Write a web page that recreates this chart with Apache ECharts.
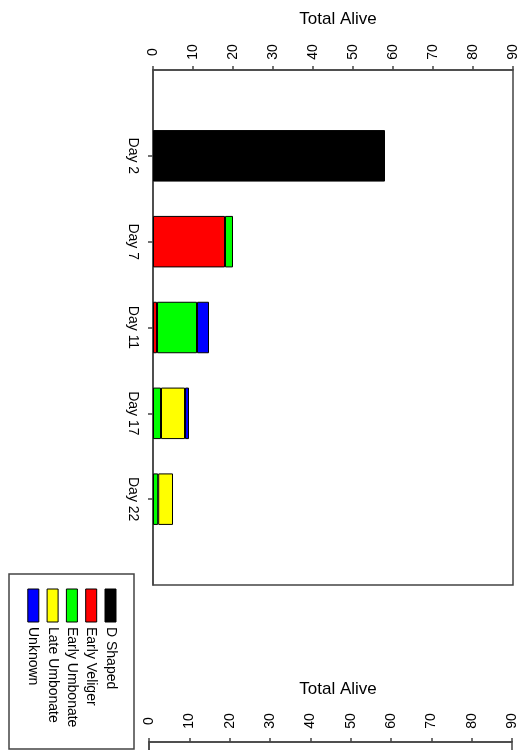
<!DOCTYPE html>
<html>
<head>
<meta charset="utf-8">
<title>Total Alive</title>
<script src="https://cdn.jsdelivr.net/npm/echarts@6/dist/echarts.min.js"></script>
<style>
  html, body { margin: 0; padding: 0; background: #fff; }
  #chart { width: 522px; height: 750px; }
</style>
</head>
<body>
<div id="chart"></div>
<script>
// data
var categories = ['Day 2', 'Day 7', 'Day 11', 'Day 17', 'Day 22'];
var dShaped       = [58, 0, 0, 0, 0];
var earlyVeliger  = [0, 18, 1, 0, 0];
var earlyUmbonate = [0, 2, 10, 2, 1.3];
var lateUmbonate  = [0, 0, 0, 6, 3.7];
var unknown       = [0, 0, 3, 1, 0];
var valueTicks = [0, 10, 20, 30, 40, 50, 60, 70, 80, 90];

var stages = [
  { name: 'D Shaped', data: dShaped, color: '#000000' },
  { name: 'Early Veliger', data: earlyVeliger, color: '#ff0000' },
  { name: 'Early Umbonate', data: earlyUmbonate, color: '#00ff00' },
  { name: 'Late Umbonate', data: lateUmbonate, color: '#ffff00' },
  { name: 'Unknown', data: unknown, color: '#0000ff' }
];

var font = "'Liberation Sans', Arial, sans-serif";
var lineCol = '#444';
// empty slot before and after so the days sit one band in from each edge
var slots = [''].concat(categories, ['']);

function valueAxis(gridIndex, margin) {
  return {
    type: 'value', gridIndex: gridIndex, position: 'top',
    min: valueTicks[0], max: valueTicks[valueTicks.length - 1],
    interval: valueTicks[1] - valueTicks[0],
    splitLine: { show: false },
    axisLine: { show: true, lineStyle: { color: lineCol, width: 1.5 } },
    axisTick: { show: true, length: 4, lineStyle: { color: lineCol, width: 1.5 } },
    axisLabel: {
      rotate: -90, align: 'center', verticalAlign: 'middle', margin: margin,
      color: '#000', fontSize: 14, fontFamily: font
    }
  };
}

function catAxis(gridIndex, showLabels) {
  return {
    type: 'category', gridIndex: gridIndex, data: slots, inverse: true,
    boundaryGap: false,
    axisLine: { show: true, lineStyle: { color: lineCol, width: 1.5 } },
    axisTick: {
      show: showLabels, length: 5, lineStyle: { color: lineCol, width: 1.5 },
      interval: function (i) { return i > 0 && i < slots.length - 1; }
    },
    axisLabel: {
      show: showLabels, rotate: -90, align: 'center', verticalAlign: 'middle',
      margin: 20, color: '#000', fontSize: 14, fontFamily: font,
      interval: 0
    }
  };
}

var series = stages.map(function (s) {
  return {
    name: s.name, type: 'bar', stack: 'alive',
    xAxisIndex: 0, yAxisIndex: 0,
    barWidth: '60%',
    itemStyle: { color: s.color, borderColor: '#000', borderWidth: 1 },
    data: [null].concat(s.data.map(function (v) { return v || null; }), [null])
  };
});

// legend drawn as a group turned a quarter clockwise
var legendItems = [];
stages.forEach(function (s, i) {
  var y = 18 + i * 19.3;
  legendItems.push({
    type: 'rect',
    shape: { x: 15, y: y, width: 33, height: 11 },
    style: { fill: s.color, stroke: '#000', lineWidth: 1 }
  });
  legendItems.push({
    type: 'text',
    style: {
      x: 53, y: y + 5.5, text: s.name, fill: '#000',
      fontSize: 14, fontFamily: font, verticalAlign: 'middle', align: 'left'
    }
  });
});

var chart = echarts.init(document.getElementById('chart'));
chart.setOption({
  backgroundColor: '#fff',
  animation: false,
  title: [
    { text: 'Total Alive', left: 333, top: 6, textAlign: 'center',
      textStyle: { fontSize: 17, fontWeight: 'normal', color: '#000', fontFamily: font } },
    { text: 'Total Alive', left: 333, top: 676, textAlign: 'center',
      textStyle: { fontSize: 17, fontWeight: 'normal', color: '#000', fontFamily: font } }
  ],
  grid: [
    { left: 153, top: 70, width: 360, height: 515, show: true,
      borderColor: lineCol, borderWidth: 1.5, backgroundColor: 'transparent' },
    { left: 149, top: 742, width: 363, height: 300, show: true,
      borderColor: lineCol, borderWidth: 1.5, backgroundColor: 'transparent' }
  ],
  xAxis: [valueAxis(0, 18), valueAxis(1, 21)],
  yAxis: [catAxis(0, true), catAxis(1, false)],
  series: series,
  graphic: [{
    type: 'group', x: 134, y: 574, rotation: -Math.PI / 2,
    children: [{
      type: 'rect',
      shape: { x: 0, y: 0, width: 175, height: 125 },
      style: { fill: '#fff', stroke: lineCol, lineWidth: 1.5 }
    }].concat(legendItems)
  }]
});
</script>
</body>
</html>
